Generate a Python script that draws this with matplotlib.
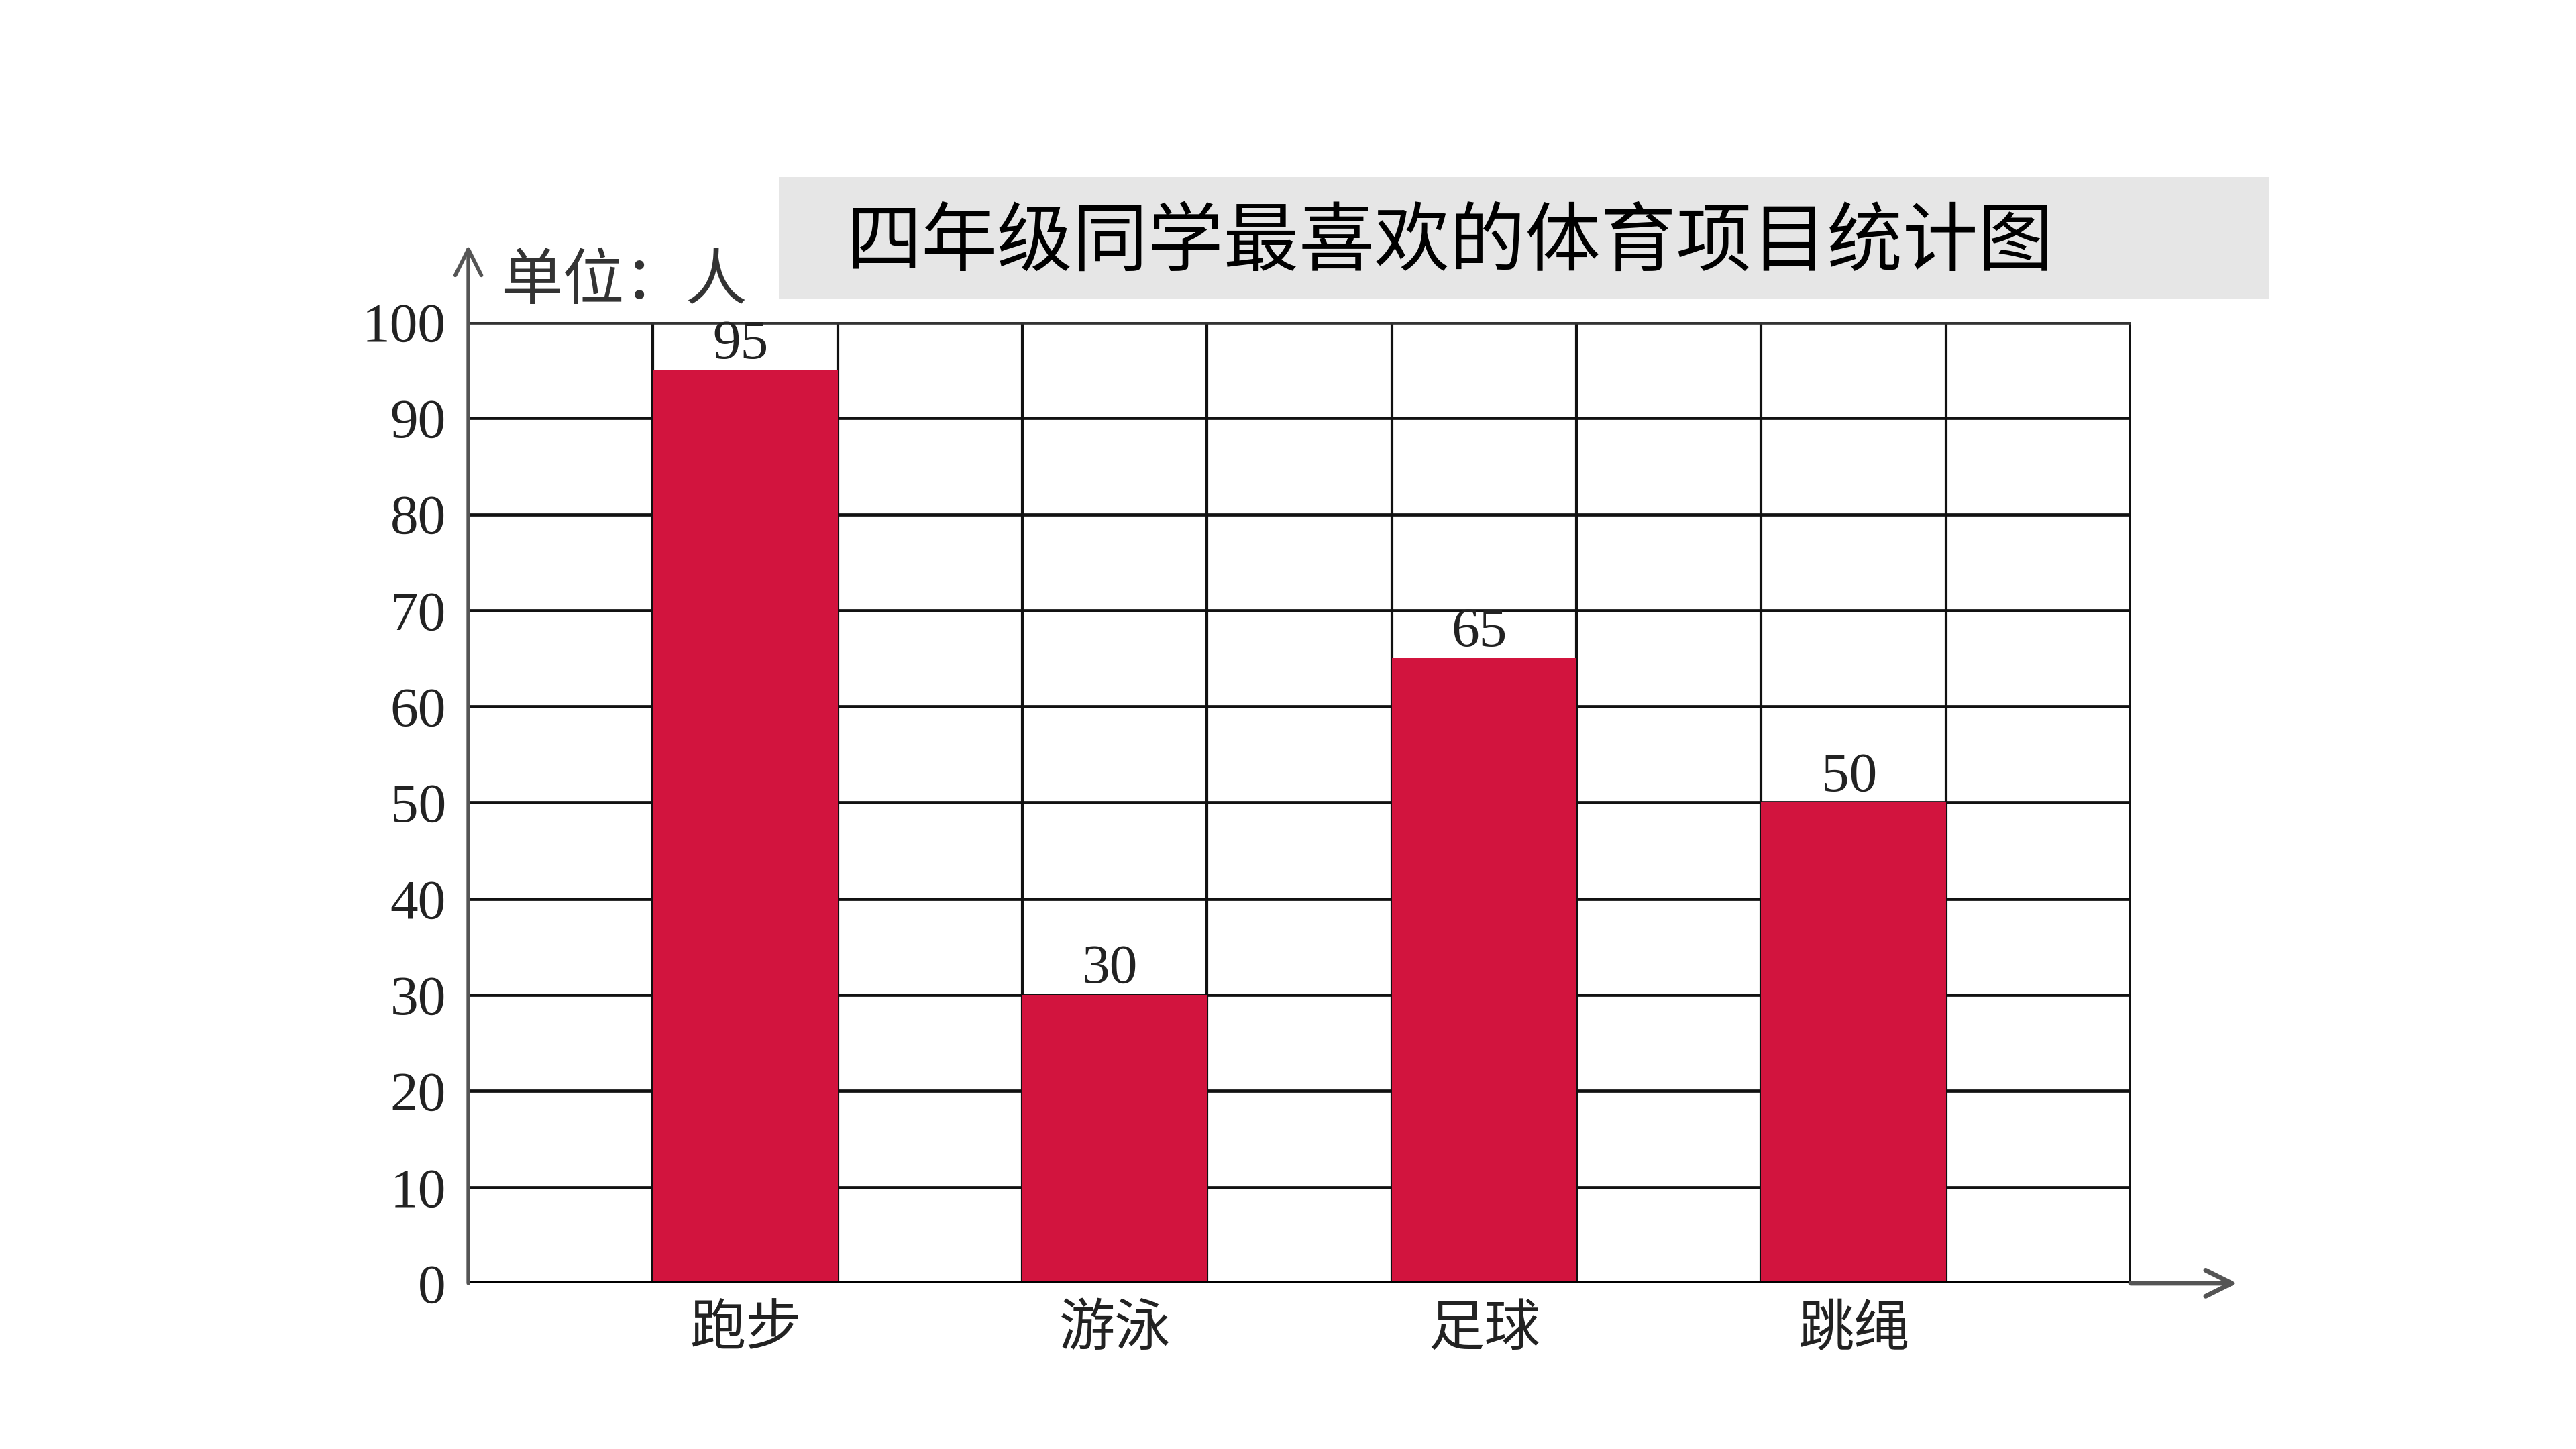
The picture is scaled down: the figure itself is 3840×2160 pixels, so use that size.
import matplotlib.pyplot as plt
import numpy as np

plt.rcParams['font.family'] = ['Noto Sans CJK SC', 'DejaVu Sans']

# データ
title = '四年级同学最喜欢的体育项目统计图'
unit_label = '单位：人'
categories = ['跑步', '游泳', '足球', '跳绳']
values = [95, 30, 65, 50]
yticks = [0, 10, 20, 30, 40, 50, 60, 70, 80, 90, 100]

bar_color = '#D2143E'
n_cols = 9
bar_pos = np.arange(len(categories)) * 2 + 1.5

fig = plt.figure(figsize=(38.4, 21.6), dpi=100)
ax = fig.add_axes([0.1818, 0.1144, 0.6453, 0.6634])
ax.set_xlim(0, n_cols)
ax.set_ylim(0, 100)

# 格子
for v in yticks:
    ax.axhline(v, color='#111111', lw=3.4, zorder=1)
for c in range(n_cols + 1):
    ax.axvline(c, color='#111111', lw=3.0, zorder=1)
ax.axhline(100, color='#333333', lw=5.5, zorder=3)
ax.axhline(0, color='black', lw=5.5, zorder=3)

# 棒
ax.bar(bar_pos, values, width=1.0, color=bar_color, zorder=2)
for x, v in zip(bar_pos, values):
    ax.annotate(str(v), (x, v), xytext=(-5, 0), textcoords='offset points',
                ha='center', va='bottom', fontsize=60,
                family='Liberation Serif', color='#222222', zorder=4)

for s in ax.spines.values():
    s.set_visible(False)

ax.set_yticks(yticks)
ax.set_yticklabels([str(v) for v in yticks], family='Liberation Serif',
                   fontsize=60, color='#222222')
ax.set_xticks(bar_pos)
ax.set_xticklabels(categories, fontsize=60, color='#222222')
ax.tick_params(axis='y', length=0, pad=24)
ax.tick_params(axis='x', length=0, pad=18)

# 矢印
ax.annotate('', xy=(0, 108), xytext=(0, 0), xycoords='data',
            arrowprops=dict(arrowstyle='->', lw=4, color='#555555',
                            mutation_scale=70, shrinkA=0, shrinkB=0),
            annotation_clip=False, zorder=5)
ax.annotate('', xy=(n_cols * 1.064, 0), xytext=(n_cols, 0), xycoords='data',
            arrowprops=dict(arrowstyle='->', lw=5, color='#555555',
                            mutation_scale=70, shrinkA=0, shrinkB=0),
            annotation_clip=False, zorder=5)

fig.text(747 / 3840, 1 - 420 / 2160, unit_label, fontsize=66, color='#333333',
         ha='left', va='center', fontweight='medium')

# タイトル
fig.patches.append(plt.Rectangle((1161 / 3840, 1 - 446 / 2160), 2221 / 3840, 182 / 2160,
                                 transform=fig.transFigure, facecolor='#E6E6E6',
                                 edgecolor='none', zorder=0))
fig.text(1261 / 3840, 1 - 362 / 2160, title, fontsize=81, color='black',
         ha='left', va='center', fontweight='medium')

fig.savefig('out.png', dpi=100)
